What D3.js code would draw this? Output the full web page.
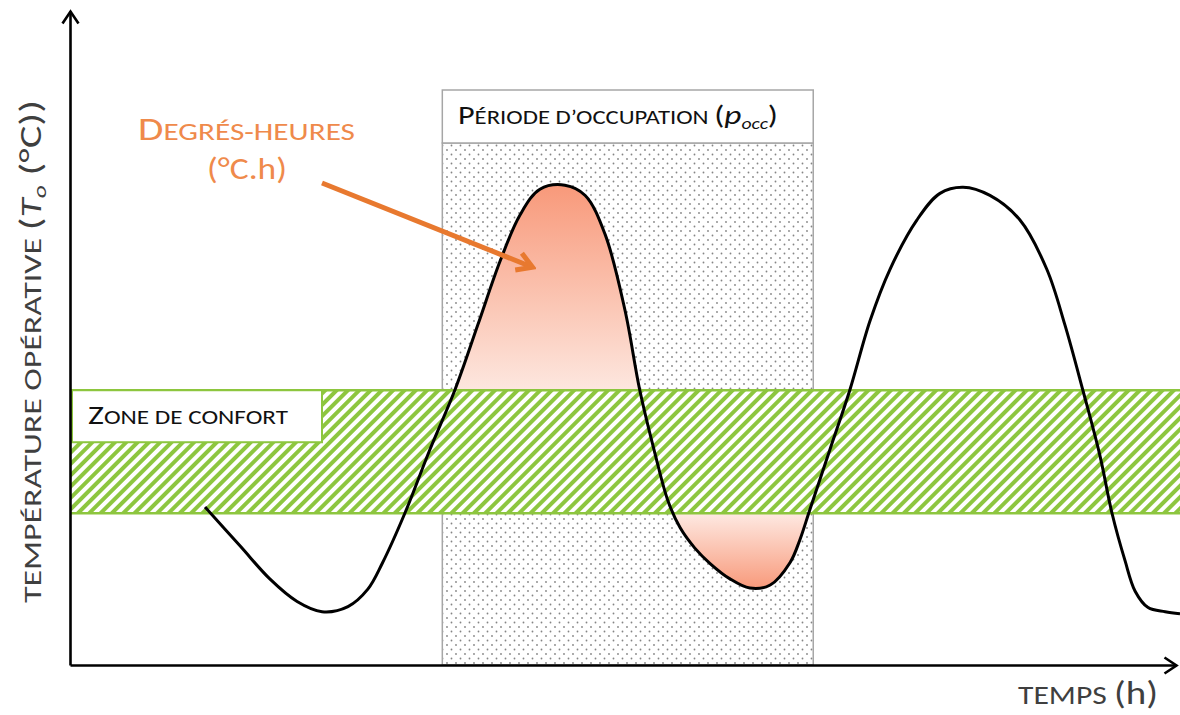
<!DOCTYPE html>
<html>
<head>
<meta charset="utf-8">
<script src="https://cdn.jsdelivr.net/npm/d3@7"></script>
<style>
body { margin: 0; background: #fff; }
svg { display: block; font-family: Carlito, Calibri, Lato, sans-serif; }
</style>
</head>
<body>
<svg id="chart" width="1180" height="715"></svg>
<script>
// temps (h) / température opérative (°C)
var hours = [2.92, 3.68, 4.32, 4.91, 5.45, 6.01, 6.44, 6.75, 7.24, 7.78, 8.32, 8.82, 9.30, 9.73, 10.16, 10.70,
  11.14, 11.57, 12.00, 12.32, 12.65, 12.93, 13.19, 13.51, 13.84, 14.27, 14.70, 15.14, 15.57, 15.78, 16.00, 16.43,
  16.86, 17.30, 17.73, 18.31, 18.81, 19.31, 19.89, 20.54, 21.12, 21.51, 21.90, 22.27, 22.53, 22.81,
  23.03, 23.31, 23.68, 24.00];
var temps = [20.3, 18.4, 16.8, 15.7, 15.2, 15.45, 16.3, 17.55, 20.0, 23.1, 26.0, 29.2, 32.3, 34.55, 35.8, 36.0,
  35.5, 33.6, 29.9, 26.0, 22.9, 20.6, 19.3, 18.3, 17.55, 16.8, 16.35, 16.5, 17.6, 18.7, 20.2, 23.1,
  26.0, 29.4, 31.9, 34.3, 35.6, 35.9, 35.5, 34.3, 31.9, 29.2, 26.0, 22.8, 20.0, 17.7,
  16.2, 15.4, 15.2, 15.1];
var comfort = [20, 26];          // zone de confort (°C)
var occupation = [8.05, 16.07];  // période d'occupation (h)
var timeDomain = [0, 24];
var tempDomain = [12.6, 44.3];

var width = 1180, height = 715;
var svg = d3.select("#chart");

var x = d3.scaleLinear().domain(timeDomain).range([70, 1180]);
var y = d3.scaleLinear().domain(tempDomain).range([665, 15]);

var data = hours.map(function(h, i) { return { t: h, T: temps[i] }; });
var smooth = d3.curveCatmullRom.alpha(0.5);

var defs = svg.append("defs");

// hachures vertes de la zone de confort
var hatch = defs.append("pattern")
    .attr("id", "hatch")
    .attr("patternUnits", "userSpaceOnUse")
    .attr("width", 8).attr("height", 8)
    .attr("patternTransform", "rotate(45)");
hatch.append("rect").attr("width", 8).attr("height", 8).attr("fill", "#fff");
hatch.append("rect").attr("width", 4).attr("height", 8).attr("fill", "#8dc63f");

// trame pointillée de la période d'occupation
var dots = defs.append("pattern")
    .attr("id", "dots")
    .attr("patternUnits", "userSpaceOnUse")
    .attr("width", 9).attr("height", 9);
dots.append("rect").attr("width", 9).attr("height", 9).attr("fill", "#fff");
dots.append("circle").attr("cx", 1.5).attr("cy", 1.5).attr("r", 0.9).attr("fill", "#858585");
dots.append("circle").attr("cx", 6).attr("cy", 6).attr("r", 0.9).attr("fill", "#858585");

// dégradés des degrés-heures
var gradUp = defs.append("linearGradient")
    .attr("id", "gradUp").attr("gradientUnits", "userSpaceOnUse")
    .attr("x1", 0).attr("x2", 0).attr("y1", y(36)).attr("y2", y(comfort[1]));
gradUp.append("stop").attr("offset", "0%").attr("stop-color", "#f8997a");
gradUp.append("stop").attr("offset", "100%").attr("stop-color", "#fde7df");

var gradDown = defs.append("linearGradient")
    .attr("id", "gradDown").attr("gradientUnits", "userSpaceOnUse")
    .attr("x1", 0).attr("x2", 0).attr("y1", y(comfort[0])).attr("y2", y(16.3));
gradDown.append("stop").attr("offset", "0%").attr("stop-color", "#fee9e2");
gradDown.append("stop").attr("offset", "100%").attr("stop-color", "#f8997a");

defs.append("clipPath").attr("id", "clipUp").append("rect")
    .attr("x", x(occupation[0])).attr("width", x(occupation[1]) - x(occupation[0]))
    .attr("y", 0).attr("height", y(comfort[1]));
defs.append("clipPath").attr("id", "clipDown").append("rect")
    .attr("x", x(occupation[0])).attr("width", x(occupation[1]) - x(occupation[0]))
    .attr("y", y(comfort[0])).attr("height", y(tempDomain[0]) - y(comfort[0]));

// flèches
defs.append("marker")
    .attr("id", "axisArrow").attr("markerUnits", "userSpaceOnUse")
    .attr("viewBox", "-16 -12 20 24").attr("refX", 0).attr("refY", 0)
    .attr("markerWidth", 20).attr("markerHeight", 24).attr("orient", "auto")
  .append("path").attr("d", "M-12,-8 L0,0 L-12,8")
    .attr("fill", "none").attr("stroke", "#000").attr("stroke-width", 2.6);
defs.append("marker")
    .attr("id", "orangeArrow").attr("markerUnits", "userSpaceOnUse")
    .attr("viewBox", "-20 -14 24 28").attr("refX", 0).attr("refY", 0)
    .attr("markerWidth", 24).attr("markerHeight", 28).attr("orient", "auto")
  .append("path").attr("d", "M-15,-9 L0,0 L-15,9")
    .attr("fill", "none").attr("stroke", "#e8792f").attr("stroke-width", 5)
    .attr("stroke-linejoin", "miter");

// période d'occupation
var headerTop = 90, headerBottom = 143;
svg.append("rect")
    .attr("x", x(occupation[0])).attr("y", headerBottom)
    .attr("width", x(occupation[1]) - x(occupation[0]))
    .attr("height", y(tempDomain[0]) - headerBottom)
    .attr("fill", "url(#dots)").attr("stroke", "#a6a6a6").attr("stroke-width", 1.5);
svg.append("rect")
    .attr("x", x(occupation[0])).attr("y", headerTop)
    .attr("width", x(occupation[1]) - x(occupation[0]))
    .attr("height", headerBottom - headerTop)
    .attr("fill", "#fff").attr("stroke", "#a6a6a6").attr("stroke-width", 1.5);

// aires des degrés-heures
var areaUp = d3.area().curve(smooth)
    .x(function(d) { return x(d.t); })
    .y0(y(comfort[1]))
    .y1(function(d) { return y(d.T); });
var areaDown = d3.area().curve(smooth)
    .x(function(d) { return x(d.t); })
    .y0(y(comfort[0]))
    .y1(function(d) { return y(d.T); });
svg.append("path").datum(data).attr("d", areaUp)
    .attr("fill", "url(#gradUp)").attr("clip-path", "url(#clipUp)");
svg.append("path").datum(data).attr("d", areaDown)
    .attr("fill", "url(#gradDown)").attr("clip-path", "url(#clipDown)");

// zone de confort
svg.append("rect")
    .attr("x", x(0)).attr("y", y(comfort[1]))
    .attr("width", width - x(0)).attr("height", y(comfort[0]) - y(comfort[1]))
    .attr("fill", "url(#hatch)");
svg.selectAll(".comfortLine").data(comfort).enter().append("line")
    .attr("class", "comfortLine")
    .attr("x1", x(0)).attr("x2", width)
    .attr("y1", function(d) { return y(d); }).attr("y2", function(d) { return y(d); })
    .attr("stroke", "#8dc63f").attr("stroke-width", 2.5);

// étiquette zone de confort
svg.append("rect")
    .attr("x", x(0) + 2).attr("y", y(comfort[1]))
    .attr("width", 250).attr("height", 52)
    .attr("fill", "#fff").attr("stroke", "#8dc63f").attr("stroke-width", 2);
var zt = svg.append("text").attr("x", 88).attr("y", 424).attr("fill", "#111")
    .attr("textLength", 200).attr("lengthAdjust", "spacingAndGlyphs");
zt.append("tspan").attr("font-size", 27).text("Z");
zt.append("tspan").attr("font-size", 20).text("ONE DE CONFORT");

// courbe de température
var line = d3.line().curve(smooth)
    .x(function(d) { return x(d.t); })
    .y(function(d) { return y(d.T); });
svg.append("path").datum(data).attr("d", line)
    .attr("fill", "none").attr("stroke", "#000").attr("stroke-width", 3)
    .attr("stroke-linejoin", "round");

// axes
var yAxisScale = y.copy().range([665, 11]);
var xAxisScale = x.copy().range([70, 1176]);
svg.append("g").attr("class", "y-axis")
    .attr("transform", "translate(" + x(0) + ",0)")
    .call(d3.axisLeft(yAxisScale).tickValues([]).tickSizeOuter(0));
svg.append("g").attr("class", "x-axis")
    .attr("transform", "translate(0," + y(tempDomain[0]) + ")")
    .call(d3.axisBottom(xAxisScale).tickValues([]).tickSizeOuter(0));
svg.selectAll(".domain")
    .attr("stroke", "#000").attr("stroke-width", 2.6)
    .attr("marker-end", "url(#axisArrow)");

// titre période d'occupation
var pt = svg.append("text").attr("x", 458).attr("y", 124).attr("fill", "#111")
    .attr("textLength", 320).attr("lengthAdjust", "spacingAndGlyphs");
pt.append("tspan").attr("font-size", 26).text("P");
pt.append("tspan").attr("font-size", 20).text("ÉRIODE D’OCCUPATION ");
pt.append("tspan").attr("font-size", 27).text("(");
pt.append("tspan").attr("font-size", 27).attr("font-style", "italic").text("p");
pt.append("tspan").attr("font-size", 16).attr("font-style", "italic").attr("dy", 5).text("occ");
pt.append("tspan").attr("font-size", 27).attr("dy", -5).text(")");

// degrés-heures
var dh = svg.append("text").attr("x", 138).attr("y", 140).attr("fill", "#ef8a4b")
    .attr("textLength", 217).attr("lengthAdjust", "spacingAndGlyphs");
dh.append("tspan").attr("font-size", 33).text("D");
dh.append("tspan").attr("font-size", 25).text("EGRÉS-HEURES");
svg.append("text").attr("x", 207).attr("y", 179)
    .attr("textLength", 80).attr("lengthAdjust", "spacingAndGlyphs")
    .attr("fill", "#ef8a4b").attr("font-size", 31).text("(°C.h)");
svg.append("line")
    .attr("x1", 322).attr("y1", 183)
    .attr("x2", x(10)).attr("y2", y(32))
    .attr("stroke", "#e8792f").attr("stroke-width", 5)
    .attr("marker-end", "url(#orangeArrow)");

// titres des axes
var yl = svg.append("text").attr("transform", "translate(41,603) rotate(-90)").attr("fill", "#3f3f3f")
    .attr("textLength", 503).attr("lengthAdjust", "spacingAndGlyphs");
yl.append("tspan").attr("font-size", 24).text("TEMPÉRATURE OPÉRATIVE ");
yl.append("tspan").attr("font-size", 30).text("(");
yl.append("tspan").attr("font-size", 28).attr("font-style", "italic").text("T");
yl.append("tspan").attr("font-size", 18).attr("font-style", "italic").attr("dy", 5).text("o");
yl.append("tspan").attr("font-size", 30).attr("dy", -5).text(" (°C))");

var xl = svg.append("text").attr("x", 1018).attr("y", 704).attr("fill", "#3f3f3f")
    .attr("textLength", 140).attr("lengthAdjust", "spacingAndGlyphs");
xl.append("tspan").attr("font-size", 26).text("TEMPS ");
xl.append("tspan").attr("font-size", 32).text("(h)");
</script>
</body>
</html>
